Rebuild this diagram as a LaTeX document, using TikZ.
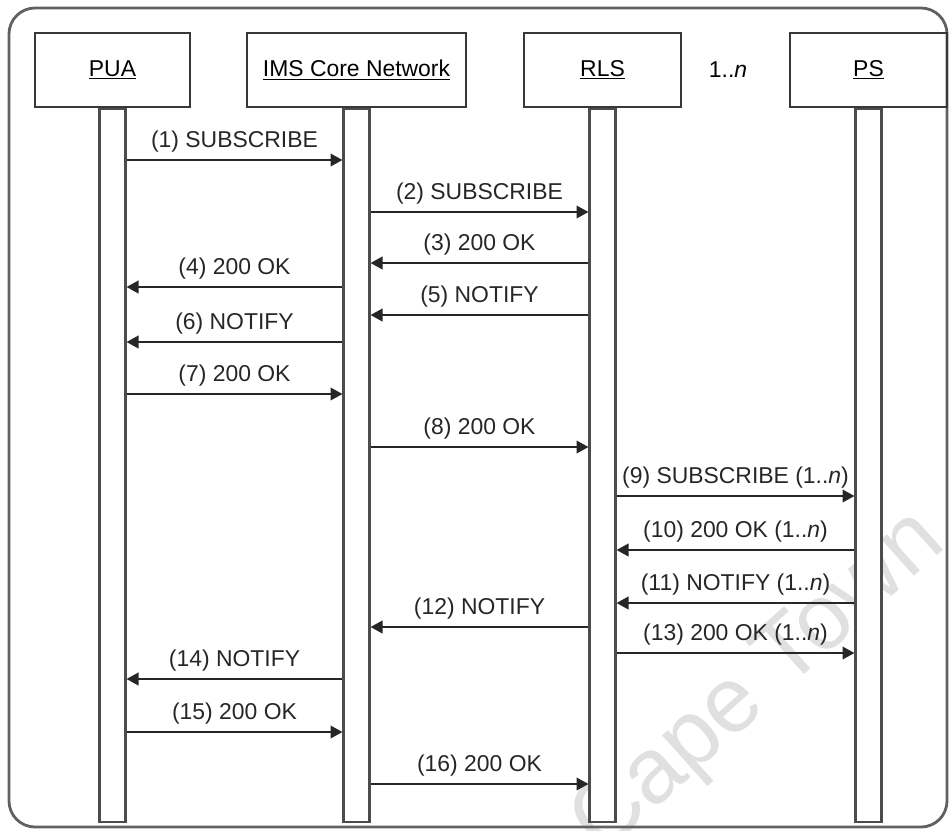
\documentclass[tikz,border=0pt]{standalone}
\usepackage{fontspec}
\setmainfont{Liberation Sans}
\usetikzlibrary{arrows.meta}
\begin{document}
\begin{tikzpicture}[x=0.25mm,y=-0.25mm,
  font=\fontsize{16.3}{19}\selectfont,
  actor/.style={draw=black!78,line width=1.4pt,minimum height=18.5mm,inner sep=0pt},
  lifeline/.style={draw=black!70,line width=1.5pt,fill=white,minimum width=6.5mm,minimum height=178.25mm,inner sep=0pt,anchor=north},
  msg/.style={draw=black!85,line width=1.3pt,-{Triangle[length=8.5pt,width=9pt]}},
  lbl/.style={above,inner sep=5pt,text=black!85}]
\useasboundingbox (0,0) rectangle (950,830);
\node[rotate=41.8,text=black!12,font=\fontsize{66}{66}\selectfont] (wm) at (760,684) {Cape Town};
\draw[black!62,line width=2pt,rounded corners=6.5mm] (9,8) rectangle (947,827);
\node[actor,minimum width=38.75mm] (pua) at (112.5,70) {\underline{PUA}};
\node[actor,minimum width=54.75mm] (ims) at (356.5,70) {\underline{IMS Core Network}};
\node[actor,minimum width=39.25mm] (rls) at (602.5,70) {\underline{RLS}};
\node[actor,minimum width=39.25mm] (ps) at (868.5,70) {\underline{PS}};
\node (mult) at (728,70) {1..\textit{n}};
\node[lifeline] (puab) at (pua.south) {};
\node[lifeline] (imsb) at (ims.south) {};
\node[lifeline] (rlsb) at (rls.south) {};
\node[lifeline] (psb) at (ps.south) {};
\draw[msg] (puab.east |- 0,160) -- node[lbl]{(1) SUBSCRIBE} (imsb.west |- 0,160);
\draw[msg] (imsb.east |- 0,212) -- node[lbl]{(2) SUBSCRIBE} (rlsb.west |- 0,212);
\draw[msg] (rlsb.west |- 0,263) -- node[lbl]{(3) 200 OK} (imsb.east |- 0,263);
\draw[msg] (imsb.west |- 0,287) -- node[lbl]{(4) 200 OK} (puab.east |- 0,287);
\draw[msg] (rlsb.west |- 0,315) -- node[lbl]{(5) NOTIFY} (imsb.east |- 0,315);
\draw[msg] (imsb.west |- 0,342) -- node[lbl]{(6) NOTIFY} (puab.east |- 0,342);
\draw[msg] (puab.east |- 0,394) -- node[lbl]{(7) 200 OK} (imsb.west |- 0,394);
\draw[msg] (imsb.east |- 0,447) -- node[lbl]{(8) 200 OK} (rlsb.west |- 0,447);
\draw[msg] (rlsb.east |- 0,496) -- node[lbl]{(9) SUBSCRIBE (1..\textit{n})} (psb.west |- 0,496);
\draw[msg] (psb.west |- 0,550) -- node[lbl]{(10) 200 OK (1..\textit{n})} (rlsb.east |- 0,550);
\draw[msg] (psb.west |- 0,603) -- node[lbl]{(11) NOTIFY (1..\textit{n})} (rlsb.east |- 0,603);
\draw[msg] (rlsb.west |- 0,627) -- node[lbl]{(12) NOTIFY} (imsb.east |- 0,627);
\draw[msg] (rlsb.east |- 0,653) -- node[lbl]{(13) 200 OK (1..\textit{n})} (psb.west |- 0,653);
\draw[msg] (imsb.west |- 0,679) -- node[lbl]{(14) NOTIFY} (puab.east |- 0,679);
\draw[msg] (puab.east |- 0,732) -- node[lbl]{(15) 200 OK} (imsb.west |- 0,732);
\draw[msg] (imsb.east |- 0,784) -- node[lbl]{(16) 200 OK} (rlsb.west |- 0,784);
\end{tikzpicture}
\end{document}
